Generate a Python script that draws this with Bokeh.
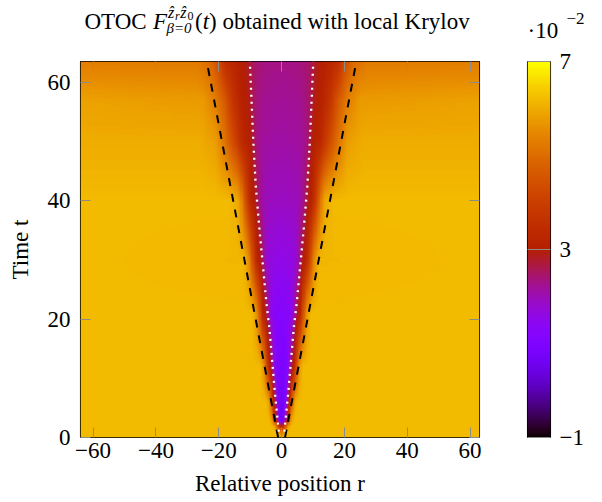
import numpy as np
from bokeh.plotting import figure
from bokeh.models import LinearColorMapper, LinearAxis, FixedTicker, Range1d
from bokeh.core.properties import value
from bokeh.layouts import row, column
from bokeh.embed import file_html
from bokeh.resources import INLINE

# ---------------- data ----------------
r_min, r_max = -64, 63
t_max = 63.5
x_ticks = [-60, -40, -20, 0, 20, 40, 60]
y_ticks = [0, 20, 40, 60]
cbar_ticks = [-1, 3, 7]
c_low, c_high = -1, 7

# OTOC value (x 1e-2) profiles versus |r| at selected times
prof_t = [0.0, 0.8, 1.8, 3.0, 6.0, 12.0, 21.0, 30.0, 40.0, 50.0, 57.0, 63.5]
prof_r = [
    [0, 64],
    [0, 1, 2, 64],
    [0, 0.8, 1.5, 2.3, 3, 64],
    [0, 0.8, 1.3, 1.8, 2.5, 3.3, 4, 64],
    [0, 1.0, 1.6, 2.1, 2.6, 3.3, 4.2, 5, 64],
    [0, 1.5, 2.3, 3.0, 3.6, 4.2, 5.0, 6.0, 7.0, 64],
    [0, 2.5, 3.8, 4.6, 5.3, 6.0, 7.0, 8.2, 9.5, 64],
    [0, 4, 5.4, 6.2, 7.0, 7.8, 9.0, 10.5, 12, 64],
    [0, 5, 7, 7.8, 8.8, 9.8, 11, 12.5, 14, 17, 64],
    [0, 6, 8.2, 9.0, 10.3, 12.5, 15, 18, 21, 26, 64],
    [0, 6, 8.5, 9.6, 11, 13, 15.5, 18, 21, 25, 64],
    [0, 5, 8.5, 10, 11.5, 13.5, 16, 18, 20, 22.5, 27, 64],
]
prof_v = [
    [6.2, 6.2],
    [5.2, 6.0, 6.2, 6.2],
    [3.4, 4.0, 5.2, 6.0, 6.2, 6.2],
    [0.4, 1.0, 2.2, 3.2, 4.8, 5.9, 6.2, 6.2],
    [0.6, 0.9, 1.8, 2.7, 3.2, 4.8, 5.9, 6.2, 6.2],
    [0.9, 1.0, 1.6, 2.4, 3.0, 3.4, 4.8, 5.9, 6.2, 6.2],
    [1.2, 1.3, 1.8, 2.5, 3.0, 3.3, 4.6, 5.8, 6.2, 6.2],
    [1.55, 1.65, 2.05, 2.6, 3.0, 3.2, 4.2, 5.6, 6.15, 6.2],
    [1.9, 1.95, 2.25, 2.65, 3.0, 3.2, 4.0, 5.3, 6.0, 6.2, 6.2],
    [2.1, 2.15, 2.35, 2.7, 3.05, 3.3, 4.2, 5.1, 5.8, 6.0, 6.0],
    [2.2, 2.25, 2.4, 2.7, 2.95, 3.15, 3.7, 4.6, 5.3, 5.75, 5.85],
    [2.3, 2.32, 2.45, 2.7, 2.9, 3.05, 3.3, 3.5, 4.3, 4.9, 5.25, 5.3],
]

# light-cone guide lines
dash_t = [0.0, 63.5]
dash_r = [1.1, 23.8]
dot_t = [1.0, 7.4, 18.6, 22.6, 35.5, 42.4, 50.0, 63.5]
dot_r = [0.9, 2.1, 3.9, 4.8, 7.1, 8.2, 9.0, 10.1]

# ---------------- colormap (gnuplot pm3d 7,5,15) ----------------
xs = np.linspace(0, 1, 256)
R = np.sqrt(xs)
G = xs ** 3
B = np.clip(np.sin(2 * np.pi * xs), 0, 1)
palette = ["#%02x%02x%02x" % (int(round(a * 255)), int(round(b * 255)), int(round(c * 255)))
           for a, b, c in zip(R, G, B)]
mapper = LinearColorMapper(palette=palette, low=c_low, high=c_high)

# ---------------- field from profiles ----------------
res = 0.25
rc = np.arange(r_min, r_max, res) + res / 2
tc = np.arange(0, t_max, res) + res / 2
P = np.array([np.interp(np.abs(rc), pr, pv) for pr, pv in zip(prof_r, prof_v)])
T = np.array(prof_t)
idx = np.clip(np.searchsorted(T, tc) - 1, 0, len(T) - 2)
w = (tc - T[idx]) / (T[idx + 1] - T[idx])
Z = P[idx] * (1 - w)[:, None] + P[idx + 1] * w[:, None]

FONT = "Liberation Serif"
FS = "23px"
TICK_COLOR = "#8c8c8c"

# ---------------- title strip (page-pixel coordinates) ----------------
TW, TH = 594, 50
ts = figure(width=TW, height=TH, x_range=Range1d(0, TW), y_range=Range1d(TH, 0),
            output_backend="svg", toolbar_location=None,
            min_border=0, x_axis_location=None, y_axis_location=None)
ts.grid.visible = False
ts.outline_line_color = None

def txt(fig, x, y, text, size, style="normal"):
    fig.text(x=[x], y=[y], text=[text], text_font=value(FONT), text_font_size=size,
             text_font_style=style, text_color="black", text_align="left",
             text_baseline="alphabetic")

tb = 21
txt(ts, 84.0, tb, "OTOC", FS)
txt(ts, 152.4, tb, "F", FS, "italic")
txt(ts, 167.5, tb - 9, "\u1e91", "16px", "italic")
txt(ts, 174.6, tb - 6, "r", "12px", "italic")
txt(ts, 179.8, tb - 9, "\u1e91", "16px", "italic")
txt(ts, 186.9, tb - 6, "0", "12px")
txt(ts, 166.0, tb + 6, "\u03b2=0", "15px", "italic")
txt(ts, 194.5, tb, "(", FS)
txt(ts, 202.2, tb, "t", FS, "italic")
txt(ts, 208.6, tb, ") obtained with local Krylov", FS)
txt(ts, 527.0, 30, "\u00b710", FS)
txt(ts, 566.0, 18, "\u22122", "17px")

# ---------------- main heatmap ----------------
p = figure(width=498, height=452, x_range=Range1d(r_min, r_max), y_range=Range1d(0, t_max),
           output_backend="svg", toolbar_location=None,
           min_border_left=80, min_border_right=19, min_border_top=11, min_border_bottom=65,
           x_axis_label="Relative position r", y_axis_label="Time t")
p.grid.visible = False
p.outline_line_color = "black"
p.outline_line_width = 1.1
p.image(image=[Z], x=r_min, y=0, dw=r_max - r_min, dh=t_max, color_mapper=mapper)

p.line(x=[-v for v in dash_r], y=dash_t, line_color="black", line_width=2, line_dash="8 8")
p.line(x=dash_r, y=dash_t, line_color="black", line_width=2, line_dash="8 8")
p.line(x=[-v for v in dot_r], y=dot_t, line_color="white", line_width=2.3, line_dash="2 5")
p.line(x=dot_r, y=dot_t, line_color="white", line_width=2.3, line_dash="2 5")

def style_axis(ax, ticks, labels=True):
    ax.ticker = FixedTicker(ticks=ticks)
    ax.major_tick_in = 10
    ax.major_tick_out = 0
    ax.minor_tick_in = 0
    ax.minor_tick_out = 0
    ax.major_tick_line_color = TICK_COLOR
    ax.major_tick_line_width = 1
    ax.axis_line_color = None
    if labels:
        ax.major_label_text_font = FONT
        ax.major_label_text_font_size = FS
        ax.major_label_text_color = "black"
        ax.axis_label_text_font = FONT
        ax.axis_label_text_font_size = FS
        ax.axis_label_text_font_style = "normal"
        ax.axis_label_text_color = "black"
        ax.major_label_overrides = {v: "\u2212%d" % abs(v) for v in ticks if v < 0}
    else:
        ax.major_label_overrides = {v: "" for v in ticks}
        ax.major_label_text_font_size = "1px"
        ax.major_label_standoff = 0

style_axis(p.xaxis[0], x_ticks)
style_axis(p.yaxis[0], y_ticks)
p.xaxis[0].major_label_standoff = 5
p.xaxis[0].axis_label_standoff = 10
p.yaxis[0].major_label_standoff = 10
p.yaxis[0].axis_label_standoff = 12

top_ax = LinearAxis()
style_axis(top_ax, x_ticks, labels=False)
p.add_layout(top_ax, "above")
right_ax = LinearAxis()
style_axis(right_ax, y_ticks, labels=False)
p.add_layout(right_ax, "right")

# ---------------- colorbar ----------------
cb = figure(width=96, height=452, x_range=Range1d(0, 1), y_range=Range1d(c_low, c_high),
            output_backend="svg", toolbar_location=None,
            min_border_left=29, min_border_right=44, min_border_top=11, min_border_bottom=65,
            x_axis_location=None, y_axis_location="right")
cb.grid.visible = False
cb.outline_line_color = "black"
cb.outline_line_width = 1.1
grad = np.linspace(c_low, c_high, 256)[:, None]
cb.image(image=[grad], x=0, y=c_low, dw=1, dh=c_high - c_low, color_mapper=mapper)
cax = cb.yaxis[0]
cax.ticker = FixedTicker(ticks=cbar_ticks)
cax.major_label_overrides = {v: "\u2212%d" % abs(v) for v in cbar_ticks if v < 0}
cax.major_tick_in = 23
cax.major_tick_out = 0
cax.minor_tick_in = 0
cax.minor_tick_out = 0
cax.major_tick_line_color = TICK_COLOR
cax.axis_line_color = None
cax.major_label_text_font = FONT
cax.major_label_text_font_size = FS
cax.major_label_text_color = "black"
cax.major_label_standoff = 9

layout = column(ts, row(p, cb))
open("out.html", "w").write(file_html(layout, INLINE))
